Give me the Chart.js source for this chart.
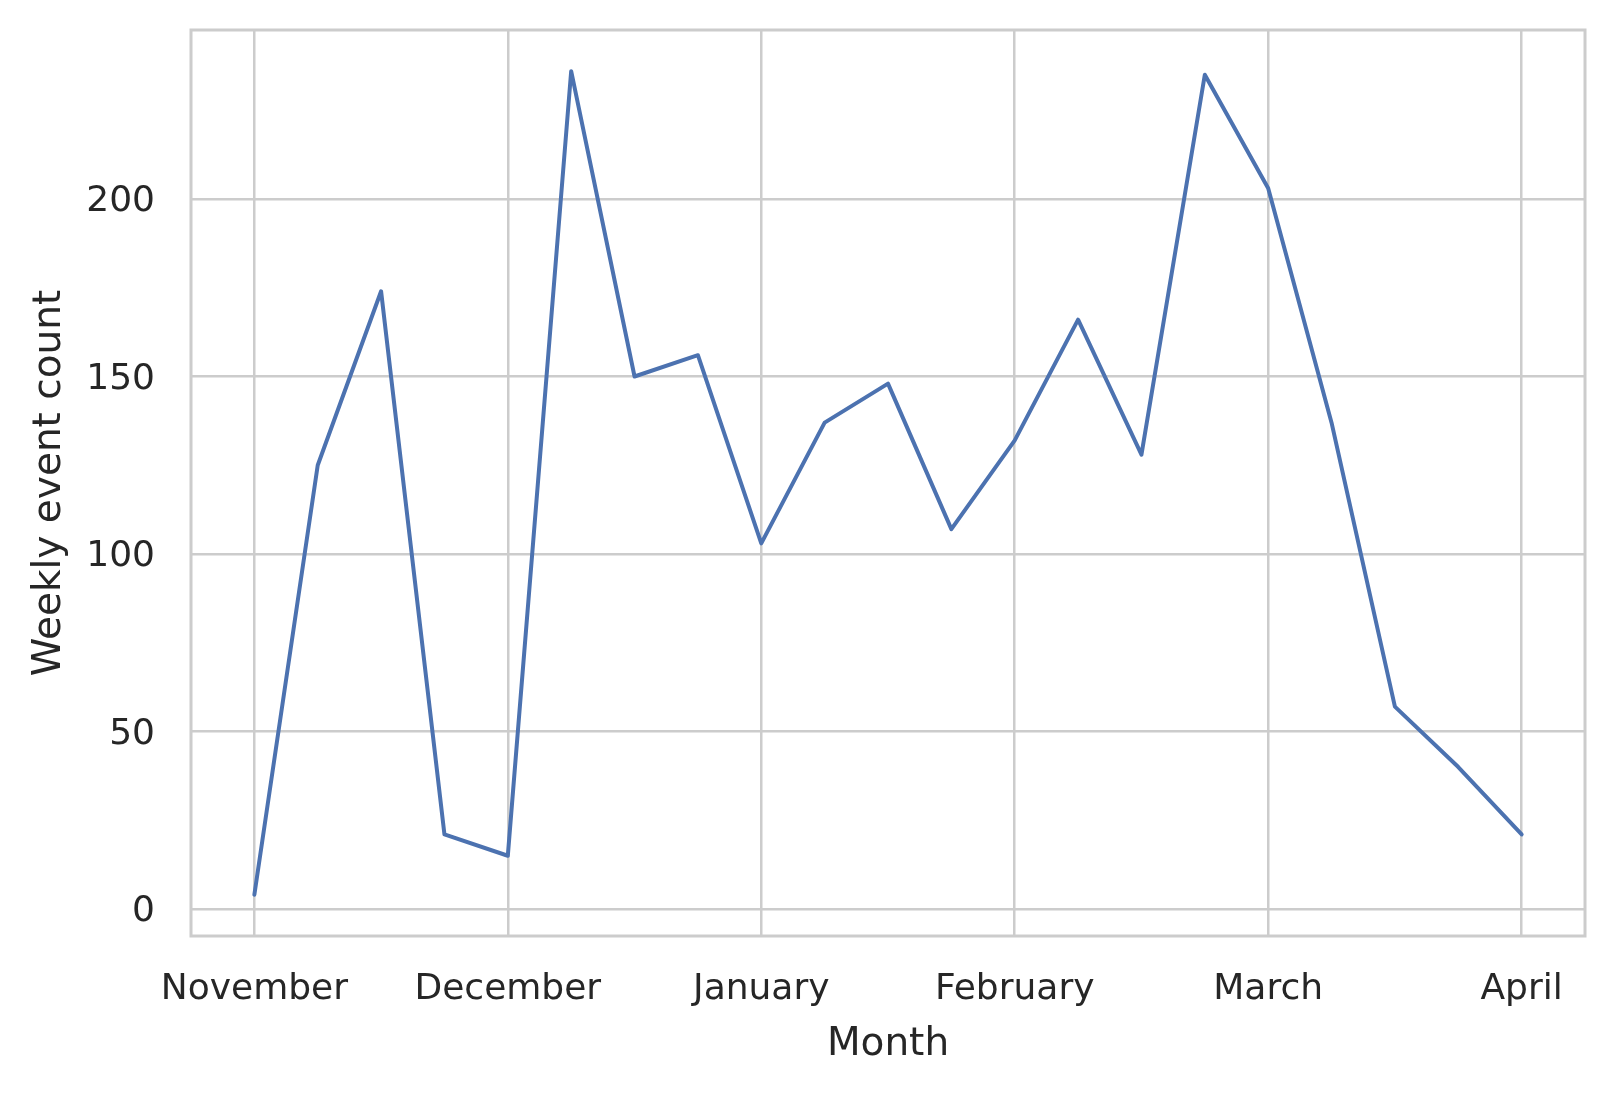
<!DOCTYPE html>
<html>
<head>
<meta charset="utf-8">
<script src="https://cdn.jsdelivr.net/npm/chart.js@4.4.0/dist/chart.umd.min.js"></script>
<style>
  html, body { margin: 0; padding: 0; background: #ffffff; }
  canvas { display: block; }
</style>
</head>
<body>
<canvas id="grafico" width="1616" height="1094" style="width:1616px;height:1094px;"></canvas>
<script>
// valores (contagem semanal)
const weeklyCounts = [4, 125, 174, 21, 15, 236, 150, 156, 103, 137, 148, 107, 132, 166, 128, 235, 203, 137, 57, 40, 21];
const monthLabels = ["November", "December", "January", "February", "March", "April"];
const monthTickWeeks = [0, 4, 8, 12, 16, 20];
const yTicks = [0, 50, 100, 150, 200];

const corTexto = "#262626";
const corGrade = "#cccccc";
const fonte = "DejaVu Sans";

// moldura completa em volta da área do gráfico (estilo whitegrid)
const moldura = {
  id: "moldura",
  afterDraw(chart) {
    const { ctx, chartArea: a } = chart;
    ctx.save();
    ctx.strokeStyle = corGrade;
    ctx.lineWidth = 3;
    ctx.strokeRect(a.left, a.top, a.right - a.left, a.bottom - a.top);
    ctx.restore();
  }
};

const ctx = document.getElementById("grafico").getContext("2d");
new Chart(ctx, {
  type: "line",
  data: {
    datasets: [{
      label: "Weekly event count",
      data: weeklyCounts.map((v, i) => ({ x: i, y: v })),
      borderColor: "#4c72b0",
      borderWidth: 4,
      pointRadius: 0,
      tension: 0,
      fill: false,
      borderCapStyle: "round",
      borderJoinStyle: "round"
    }]
  },
  options: {
    responsive: false,
    devicePixelRatio: 1,
    animation: false,
    layout: { padding: { top: 30, right: 31, left: 0, bottom: 0 } },
    plugins: { legend: { display: false }, tooltip: { enabled: false } },
    scales: {
      x: {
        type: "linear",
        min: -1,
        max: 21,
        afterBuildTicks: s => { s.ticks = monthTickWeeks.map(v => ({ value: v })); },
        afterFit: s => { s.height = 158; s.paddingLeft = 0; s.paddingRight = 0; },
        ticks: {
          color: corTexto,
          font: { family: fonte, size: 36 },
          padding: 32,
          maxRotation: 0,
          autoSkip: false,
          callback: v => monthLabels[monthTickWeeks.indexOf(v)]
        },
        grid: { color: corGrade, lineWidth: 2.5, drawTicks: false },
        border: { display: false },
        title: {
          display: true,
          text: "Month",
          color: corTexto,
          font: { family: fonte, size: 39 },
          padding: { top: 0, bottom: 26 }
        }
      },
      y: {
        min: -7.6,
        max: 247.6,
        afterBuildTicks: s => { s.ticks = yTicks.map(v => ({ value: v })); },
        afterFit: s => { s.width = 191; s.paddingTop = 0; s.paddingBottom = 0; },
        ticks: {
          color: corTexto,
          font: { family: fonte, size: 36 },
          padding: 36,
          labelOffset: 3
        },
        grid: { color: corGrade, lineWidth: 2.5, drawTicks: false },
        border: { display: false },
        title: {
          display: true,
          text: "Weekly event count",
          color: corTexto,
          font: { family: fonte, size: 39 },
          padding: { top: 26, bottom: 0 }
        }
      }
    }
  },
  plugins: [moldura]
});
</script>
</body>
</html>
